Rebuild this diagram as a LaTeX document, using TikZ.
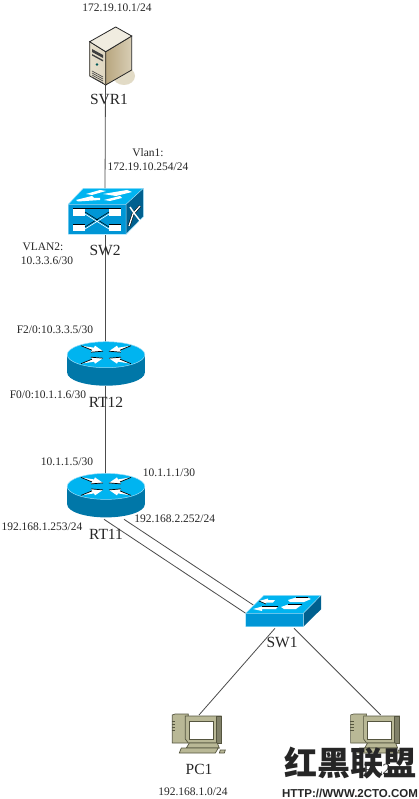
\documentclass[tikz,border=0pt]{standalone}
\usepackage{fontspec}
\setmainfont{Liberation Serif}
\setsansfont{Liberation Sans}
\newfontfamily\cjk{Noto Sans CJK SC}
\usepackage{tikz}

\definecolor{ciscotop}{HTML}{00B4F0}
\definecolor{ciscofront}{HTML}{0096D6}
\definecolor{ciscoside}{HTML}{00608F}
\definecolor{routerside}{HTML}{0077A8}
\definecolor{pcbody}{HTML}{B9B896}
\definecolor{pcedge}{HTML}{55553F}
\definecolor{svrlight}{HTML}{E6DFCC}
\definecolor{svrtan}{HTML}{B8A67F}
\definecolor{svrshade}{HTML}{E2DBC6}

\tikzset{
  link/.style={draw=black!70, line width=0.8pt},
  addr/.style={font=\fontsize{11.5}{13}\selectfont, text=black!85, inner sep=0pt},
  devname/.style={font=\fontsize{15.5}{17}\selectfont, text=black!85, inner sep=0pt},
  routerpic/.pic={
    \fill[routerside] (-38.8,0) -- (-38.8,18) arc[start angle=180, end angle=0, x radius=38.8, y radius=13]
      -- (38.8,0) -- cycle;
    \fill[ciscotop] (0,0) ellipse[x radius=38.8, y radius=13];
    \draw[cyan!40, line width=0.5pt] (0,0) ellipse[x radius=38.8, y radius=13];
    \foreach \sx/\sy in {1/1,-1/1,1/-1,-1/-1} {
      \begin{scope}[xscale=\sx, yscale=\sy]
        \fill[white] (-25,-9) -- (-12,-7) -- (-11,-9) -- (-3,-3.5) -- (-15,-2.5) -- (-14,-4.5) -- cycle;
        \draw[black, line width=0.7pt] (-25,-9) -- (-14,-4.5);
        \draw[black, line width=0.7pt] (-15,-2.5) -- (-3,-3.5);
      \end{scope}
    }
  },
  pcpic/.pic={
    \begin{scope}[draw=pcedge, line width=0.7pt]
      % tower
      \filldraw[fill=pcbody] (0,0) -- (3,-1) -- (16,-1) -- (16,28) -- (0,28) -- cycle;
      \foreach \i in {6,9,12,15} \draw[line width=0.5pt] (-0.5,\i) -- (3,\i);
      % monitor
      \filldraw[fill=pcbody] (13,1) -- (49,1) -- (49,28) -- (16,28) -- (13,24) -- cycle;
      \filldraw[fill=pcbody!70!black] (44,1) -- (49,1) -- (49,28) -- (44,28) -- cycle;
      \filldraw[fill=white, line width=1pt] (17,6) rectangle (41,24);
      % base and keyboard
      \filldraw[fill=pcbody] (17,28) -- (45,28) -- (47,33) -- (14,33) -- cycle;
      \filldraw[fill=pcbody] (9,33) -- (46,33) -- (43,38) -- (7,38) -- cycle;
      \filldraw[fill=pcbody] (48,35) -- (53,35) -- (52,38) -- (47,38) -- cycle;
    \end{scope}
  }
}

\begin{document}
\begin{tikzpicture}[x=1pt, y=-1pt]
\useasboundingbox (0,0) rectangle (418,799);
\fill[white] (0,0) rectangle (418,799);

\coordinate (svrOne) at (105.5,85);
\coordinate (swTwo) at (105,190);
\coordinate (swTwoB) at (105,235);
\coordinate (rtTwelveT) at (105,345);
\coordinate (rtTwelveB) at (105,386);
\coordinate (rtElevenT) at (105,474);
\coordinate (rtElevenA) at (104,519.3);
\coordinate (rtElevenB) at (124,519.3);
\coordinate (swOneA) at (245.7,613.3);
\coordinate (swOneB) at (253.3,605);
\coordinate (swOneC) at (275,628.3);
\coordinate (swOneD) at (294,628.3);
\coordinate (pcOne) at (199,715);
\coordinate (pcTwo) at (380.7,715);

% links
\draw[link] (svrOne) -- (swTwo);
\draw[link] (swTwoB) -- (rtTwelveT);
\draw[link] (rtTwelveB) -- (rtElevenT);
\draw[link] (rtElevenA) -- (swOneA);
\draw[link] (rtElevenB) -- (swOneB);
\draw[link] (swOneC) -- (pcOne);
\draw[link] (swOneD) -- (pcTwo);

% server
\fill[svrshade] (124,76) ellipse[x radius=11, y radius=9];
\draw[black!85, line width=0.8pt, left color=svrlight, right color=svrlight!85!svrtan]
  (89.7,41.7) -- (105.7,51.7) -- (105.7,85) -- (89.7,76) -- cycle;
\draw[black!85, line width=0.8pt, left color=svrtan, right color=svrlight!70!svrtan]
  (105.7,51.7) -- (131.7,36) -- (131.7,70) -- (105.7,85) -- cycle;
\draw[black!85, line width=0.8pt, fill=svrlight!60!white]
  (89.7,41.7) -- (115.7,27) -- (131.7,36) -- (105.7,51.7) -- cycle;
\fill[black!75] (92,49) -- (103,55) -- (103,58) -- (92,52) -- cycle;
\fill[black!75] (92,54) -- (103,60) -- (103,61.5) -- (92,55.5) -- cycle;
\fill[teal!70!black] (97,64.5) circle (1.4);
\foreach \i in {0,2,4,6} \draw[black!75, line width=0.6pt] (92,71+\i) -- (103,77+\i);

% large switch
\fill[ciscotop] (68.3,204.3) -- (83.3,188.3) -- (143.3,188.3) -- (126,204.3) -- cycle;
\fill[ciscofront] (68.3,204.3) rectangle (126,234.3);
\fill[ciscoside] (126,204.3) -- (143.3,188.3) -- (143.3,216.7) -- (126,234.3) -- cycle;
\draw[cyan!40, line width=0.5pt] (68.3,234.3) -- (68.3,204.3) -- (83.3,188.3) -- (143.3,188.3) -- (143.3,216.7) -- (126,234.3) -- (68.3,234.3);
\draw[cyan!40, line width=0.5pt] (68.3,204.3) -- (126,204.3) -- (143.3,188.3) (126,204.3) -- (126,234.3);
\fill[white] (76,200) -- (92,196) -- (94,198) -- (100,198) -- (100,200) -- (78,201.5) -- cycle;
\fill[white] (103,194) -- (127,190) -- (132,192) -- (116,196) -- cycle;
\fill[white] (86,194) -- (100,190) -- (106,191) -- (92,195) -- cycle;
\fill[white] (104,200) -- (120,196) -- (122,198) -- (110,201) -- cycle;
\fill[white] (73,208.5) rectangle (85,216);
\fill[white] (109,208.5) rectangle (121,216);
\fill[white] (73,224) rectangle (85,231);
\fill[white] (109,224) rectangle (121,231);
\draw[black, line width=0.6pt] (73,208.5) -- (121,208.5) (73,224) -- (85,224) (109,224) -- (121,224);
\draw[black, line width=0.5pt] (85,212) -- (109,227) (85,227) -- (109,212);
\draw[white, line width=0.6pt] (85,214) -- (109,229) (85,229) -- (109,214);
\draw[black, line width=2.4pt] (129,226) -- (133,214) -- (140,206);
\draw[white, line width=1.4pt] (129,226) -- (133,214) -- (140,206);
\draw[white, line width=1.4pt] (130,207) -- (134,213) -- (141,222);

% routers
\pic at (106,354.7) {routerpic};
\pic at (106,486.4) {routerpic};

% small switch
\fill[ciscotop] (245.7,613.3) -- (264,595.3) -- (321,595.3) -- (303.3,613.3) -- cycle;
\fill[ciscofront] (245.7,613.3) rectangle (303.3,626.7);
\fill[ciscoside] (303.3,613.3) -- (321,595.3) -- (321,609.3) -- (303.3,626.7) -- cycle;
\draw[cyan!40, line width=0.5pt] (245.7,626.7) -- (245.7,613.3) -- (264,595.3) -- (321,595.3) (245.7,613.3) -- (303.3,613.3) -- (321,595.3) (303.3,613.3) -- (303.3,626.7) -- (245.7,626.7);
\fill[white] (259,601) -- (268,598.5) -- (268,600) -- (275,600) -- (273,602.5) -- (266,602.5) -- (266,604) -- cycle;
\fill[white] (288,600) -- (296,597.5) -- (308,597.5) -- (311,599) -- (304,602) -- (290,602) -- cycle;
\fill[white] (253,609) -- (262,606.5) -- (278,606.5) -- (276,609) -- (262,609) -- (262,611) -- cycle;
\fill[white] (281,607) -- (288,604.5) -- (302,604.5) -- (296,609) -- (284,609) -- cycle;
\draw[black, line width=0.6pt] (259,601) -- (266,604) (262,606.5) -- (278,606.5) (288,604.5) -- (302,604.5) (296,597.5) -- (308,597.5);

% pcs
\pic at (172.3,715) {pcpic};
\pic at (350.6,715) {pcpic};

% labels
\node[addr] (svrIp) at (117,8) {172.19.10.1/24};
\node[devname] (svrName) at (109,99.5) {SVR1};
\node[addr] (vlanOneA) at (148,153) {Vlan1:};
\node[addr] (vlanOneB) at (148,167) {172.19.10.254/24};
\node[devname] (swTwoName) at (105,250) {SW2};
\node[addr] (vlanTwoA) at (43,247) {VLAN2:};
\node[addr] (vlanTwoB) at (47,261) {10.3.3.6/30};
\node[addr] (ftwo) at (55,330) {F2/0:10.3.3.5/30};
\node[addr] (fzero) at (48,395) {F0/0:10.1.1.6/30};
\node[devname] (rtTwelveName) at (106,402) {RT12};
\node[addr] (ipFive) at (67,462) {10.1.1.5/30};
\node[addr] (ipOne) at (169,472.7) {10.1.1.1/30};
\node[addr] (lanTwo) at (174.7,519) {192.168.2.252/24};
\node[addr] (lanOne) at (42,527) {192.168.1.253/24};
\node[devname] (rtElevenName) at (106,534) {RT11};
\node[devname] (swOneName) at (282,642.7) {SW1};
\node[devname] (pcOneName) at (199,769) {PC1};
\node[addr] (pcOneIp) at (193,791.7) {192.168.1.0/24};
\node[devname] (pcTwoName) at (377,769) {PC2};

% watermark
\node[inner sep=0pt, font=\cjk\bfseries\fontsize{33}{33}\selectfont, text=black!85] (markCjk) at (350,763) {红黑联盟};
\node[inner sep=0pt, font=\sffamily\bfseries\fontsize{11.5}{13}\selectfont, text=black!85] (markUrl) at (350,793) {HTTP://WWW.2CTO.COM};
\end{tikzpicture}
\end{document}
